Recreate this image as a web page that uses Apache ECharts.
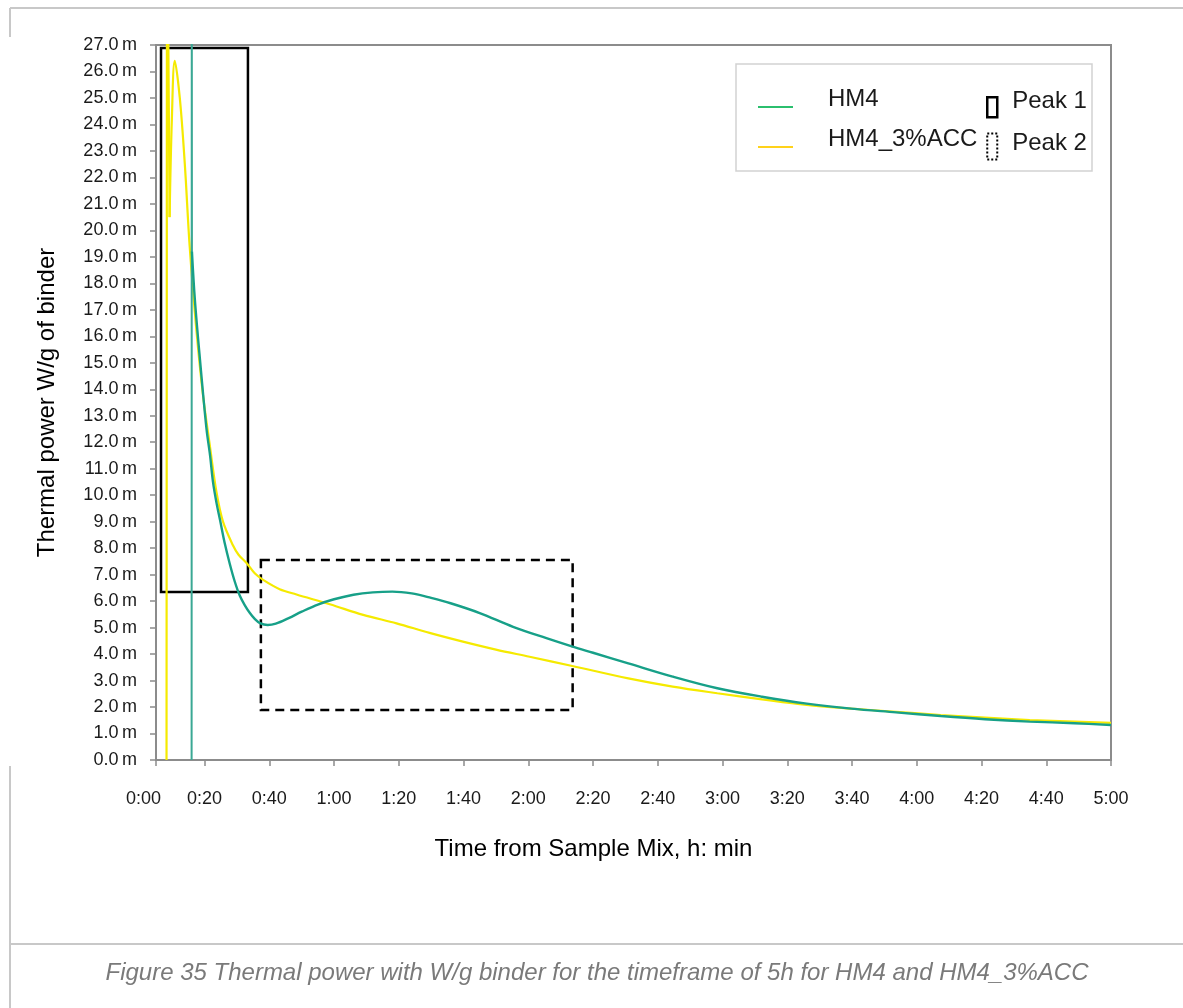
<!DOCTYPE html>
<html><head><meta charset="utf-8">
<script src="https://cdn.jsdelivr.net/npm/echarts@6/dist/echarts.min.js"></script>
<style>html,body{margin:0;padding:0;background:#fff}#c{width:1183px;height:1008px}</style>
</head><body><div id="c"></div>
<script>
// time in minutes from sample mix, thermal power in mW/g of binder
const hm4Time  = [16.0, 16.05, 16.1, 17.0, 18.6, 20.6, 21.7, 22.6, 23.7, 24.8, 26.2, 27.8, 29.3, 30.9, 32.4, 34.0, 35.5, 37.1, 39.5, 42.0, 46.0, 50.0, 55.0, 60.0, 66.0, 72.0, 78.0, 84.0, 90.0, 96.0, 105.0, 115.3, 125.6, 133.7, 140.0, 150.9, 164.6, 178.4, 192.2, 206.0, 219.8, 233.6, 247.4, 261.1, 274.9, 288.7, 300.0];
const hm4Power = [0.0, 30.0, 19.2, 17.4, 15.1, 12.5, 11.5, 10.5, 9.7, 9.05, 8.2, 7.4, 6.75, 6.2, 5.85, 5.55, 5.33, 5.17, 5.1, 5.15, 5.36, 5.6, 5.87, 6.07, 6.24, 6.33, 6.36, 6.29, 6.12, 5.92, 5.55, 5.03, 4.6, 4.28, 4.05, 3.65, 3.15, 2.71, 2.39, 2.13, 1.94, 1.8, 1.66, 1.54, 1.45, 1.39, 1.32];
const accTime  = [8.25, 8.4, 9.2, 9.9, 10.8, 12.35, 13.9, 15.4, 17.5, 19.5, 21.6, 23.7, 25.7, 28.8, 30.5, 32.9, 35.5, 38.1, 43.2, 48.4, 58.7, 69.0, 79.3, 89.5, 99.8, 110.0, 120.4, 133.6, 150.9, 164.6, 178.4, 192.2, 206.0, 219.8, 233.6, 247.4, 261.1, 274.9, 288.7, 300.0];
const accPower = [0.0, 34.0, 20.5, 24.2, 26.4, 25.0, 22.5, 19.4, 16.2, 13.8, 11.9, 10.1, 9.0, 8.1, 7.75, 7.45, 7.05, 6.8, 6.45, 6.25, 5.88, 5.48, 5.16, 4.8, 4.47, 4.17, 3.9, 3.55, 3.08, 2.77, 2.52, 2.29, 2.08, 1.94, 1.82, 1.7, 1.6, 1.51, 1.45, 1.4];
const spikePoints = 3; // first points of each record: the mixing spike (drawn unsmoothed)

const xTickValues = [5, 20, 40, 60, 80, 100, 120, 140, 160, 180, 200, 220, 240, 260, 280, 300];
const xTickLabels = ['0:00','0:20','0:40','1:00','1:20','1:40','2:00','2:20','2:40','3:00','3:20','3:40','4:00','4:20','4:40','5:00'];

// boxes: [time start, time end, power low, power high]
const peak1Box = [6.55, 33.4, 6.34, 26.89];
const peak2Box = [37.4, 133.7, 1.89, 7.55];

const seriesNames = ['HM4', 'HM4_3%ACC', 'Peak 1', 'Peak 2'];
const caption = 'Figure 35 Thermal power with W/g binder for the timeframe of 5h for HM4 and HM4_3%ACC';

const FONT = 'Liberation Sans, Arial, sans-serif';
const pairs = (xs, ys) => xs.map((x, i) => [x, ys[i]]);
const box = b => [[{coord: [b[0], b[3]]}, {coord: [b[1], b[2]]}]];
const hm4 = pairs(hm4Time, hm4Power);
const acc = pairs(accTime, accPower);

const lineIcon = 'path://M0,-16 L0,-16 M0,0 L35,0 L35,2 L0,2 Z';
const peak1Icon = 'path://M0,-12 L0,-12 M0,0 L10,0 L10,20 L0,20 Z';
const peak2Icon = 'path://M0,-6 L0,-6 M0,0 L10,0 L10,26 L0,26 Z';

const chart = echarts.init(document.getElementById('c'), null, {renderer: 'canvas'});
chart.setOption({
  animation: false,
  textStyle: {fontFamily: FONT},
  grid: {left: 156, right: 72, top: 45, bottom: 248, show: true, borderColor: '#8c8c8c', borderWidth: 2},
  xAxis: {
    type: 'value', min: 5, max: 300,
    name: 'Time from Sample Mix, h: min', nameLocation: 'middle', nameGap: 77,
    nameTextStyle: {fontSize: 24, color: '#000', fontFamily: FONT, padding: [0, 80, 0, 0]},
    axisLine: {show: true, lineStyle: {color: '#8c8c8c', width: 2}},
    axisTick: {show: true, length: 6, lineStyle: {color: '#8c8c8c', width: 1.5}, customValues: xTickValues},
    axisLabel: {
      margin: 30, fontSize: 18, color: '#1a1a1a', fontFamily: FONT,
      customValues: xTickValues,
      formatter: v => {
        const i = xTickValues.indexOf(v);
        const t = i >= 0 ? xTickLabels[i] : '';
        return i === 0 ? '{z|' + t + '}' : t;
      },
      rich: {z: {fontSize: 18, color: '#1a1a1a', fontFamily: FONT, padding: [0, 25, 0, 0]}}
    },
    splitLine: {show: false}
  },
  yAxis: {
    type: 'value', min: 0, max: 27, interval: 1,
    name: 'Thermal power W/g of binder', nameLocation: 'middle', nameGap: 97,
    nameTextStyle: {fontSize: 24, color: '#000', fontFamily: FONT},
    axisLine: {show: true, lineStyle: {color: '#8c8c8c', width: 2}},
    axisTick: {show: true, length: 6, lineStyle: {color: '#8c8c8c', width: 1.5}},
    axisLabel: {margin: 19, fontSize: 18, color: '#1a1a1a', fontFamily: FONT, formatter: v => v.toFixed(1) + '\u2009m'},
    splitLine: {show: false}
  },
  legend: [
    {
      data: [
        {name: seriesNames[0], icon: lineIcon, itemStyle: {color: '#2bbf6e', borderWidth: 0}},
        {name: seriesNames[1], icon: lineIcon, itemStyle: {color: '#ffd21a', borderWidth: 0}}
      ],
      orient: 'vertical', left: 753, top: 82,
      itemWidth: 35, itemHeight: 18, itemGap: 16,
      textStyle: {fontSize: 24, color: '#1a1a1a', fontFamily: FONT, padding: [0, 0, 0, 30]}
    },
    {
      data: [
        {name: seriesNames[2], icon: peak1Icon, itemStyle: {color: 'rgba(0,0,0,0)', borderColor: '#000', borderWidth: 2.5}},
        {name: seriesNames[3], icon: peak2Icon, itemStyle: {color: 'rgba(0,0,0,0)', borderColor: '#000', borderWidth: 2, borderType: 'dotted'}}
      ],
      orient: 'vertical', left: 981, top: 79,
      itemWidth: 10, itemHeight: 32, itemGap: 8,
      textStyle: {fontSize: 24, color: '#1a1a1a', fontFamily: FONT, padding: [0, 0, 0, 10]}
    }
  ],
  series: [
    {
      name: seriesNames[1], type: 'line', data: acc.slice(0, spikePoints), symbol: 'none', z: 2,
      color: '#f2e600', lineStyle: {color: '#f5ea00', width: 2.2}
    },
    {
      name: seriesNames[1], type: 'line', data: acc.slice(spikePoints - 1), symbol: 'none', z: 2,
      smooth: 0.35,
      color: '#f2e600', lineStyle: {color: '#f5ea00', width: 2.2}
    },
    {
      name: seriesNames[0], type: 'line', data: hm4.slice(0, spikePoints), symbol: 'none', z: 3,
      color: '#1aa58a', lineStyle: {color: '#3aa894', width: 2}
    },
    {
      name: seriesNames[0], type: 'line', data: hm4.slice(spikePoints - 1), symbol: 'none', z: 3,
      smooth: 0.35,
      color: '#1aa58a', lineStyle: {color: '#17a088', width: 2.4}
    },
    {
      name: seriesNames[2], type: 'line', data: [], symbol: 'none', color: '#000', z: 4,
      markArea: {silent: true, itemStyle: {color: 'rgba(0,0,0,0)', borderColor: '#000', borderWidth: 2.5}, data: box(peak1Box)}
    },
    {
      name: seriesNames[3], type: 'line', data: [], symbol: 'none', color: '#000', z: 4,
      markArea: {silent: true, itemStyle: {color: 'rgba(0,0,0,0)', borderColor: '#000', borderWidth: 2.5, borderType: [9, 6]}, data: box(peak2Box)}
    }
  ],
  graphic: [
    {type: 'rect', shape: {x: 736, y: 64, width: 356, height: 107}, style: {fill: 'none', stroke: '#d2d2d2', lineWidth: 1.5}, z: -1, silent: true},
    {type: 'line', shape: {x1: 10, y1: 8, x2: 1183, y2: 8}, style: {stroke: '#c8c8c8', lineWidth: 2}, silent: true},
    {type: 'line', shape: {x1: 10, y1: 8, x2: 10, y2: 37}, style: {stroke: '#c8c8c8', lineWidth: 2}, silent: true},
    {type: 'line', shape: {x1: 10, y1: 766, x2: 10, y2: 1008}, style: {stroke: '#c8c8c8', lineWidth: 2}, silent: true},
    {type: 'line', shape: {x1: 10, y1: 944, x2: 1183, y2: 944}, style: {stroke: '#c8c8c8', lineWidth: 2}, silent: true},
    {type: 'text', x: 597, y: 973, silent: true,
     style: {text: caption, textAlign: 'center', textVerticalAlign: 'middle', font: 'italic 24px ' + FONT, fill: '#7a7a7a'}}
  ]
});
</script></body></html>
